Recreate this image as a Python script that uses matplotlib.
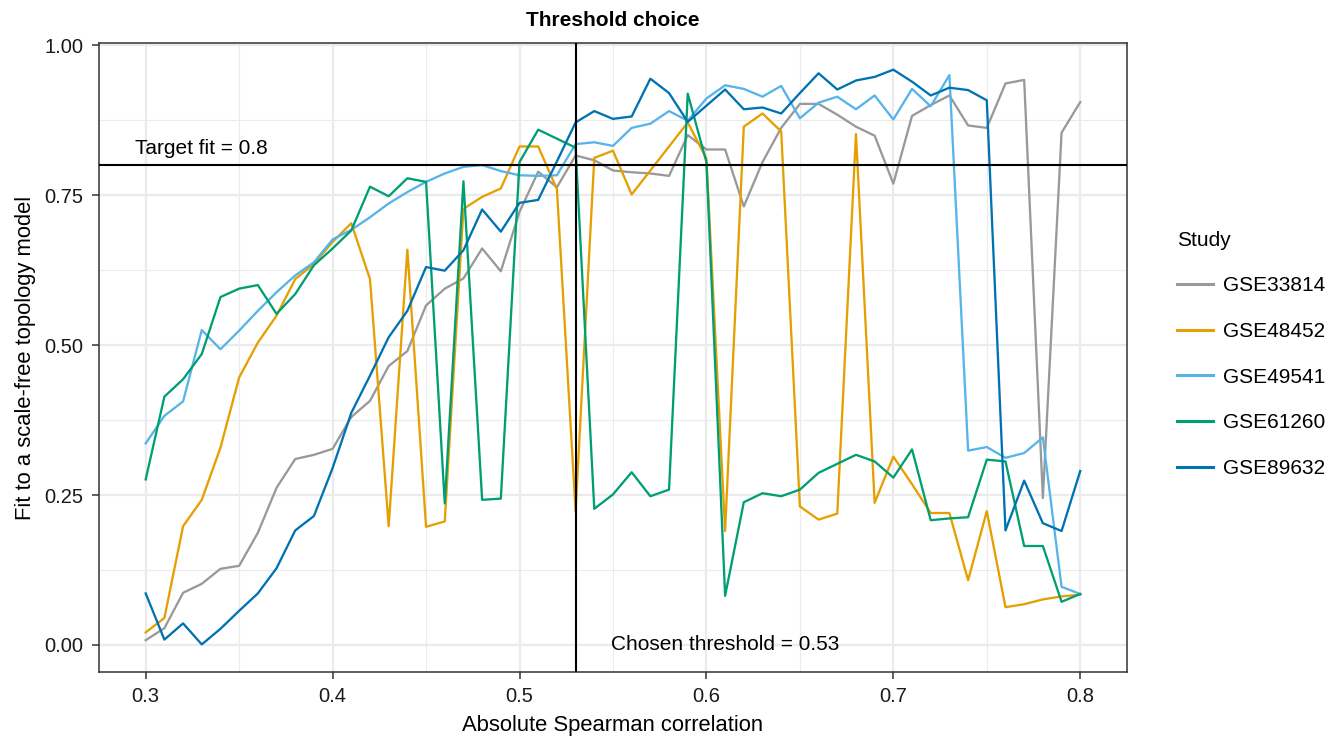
#!/usr/bin/env python3
"""
Threshold choice plot: scale-free topology fit vs absolute Spearman
correlation cutoff, one line per study (ggplot theme_bw look).
"""

import matplotlib

matplotlib.use("Agg")  # Use non-interactive backend
import matplotlib.pyplot as plt
from matplotlib.lines import Line2D
from matplotlib.ticker import FixedLocator, FormatStrFormatter

plt.rcParams["font.family"] = ["Liberation Sans", "DejaVu Sans"]

# Correlation cutoffs 0.30 .. 0.80
thresholds = [round(0.30 + 0.01 * i, 2) for i in range(51)]

gse33814 = [
    0.008, 0.028, 0.087, 0.102, 0.127, 0.132, 0.187, 0.262, 0.310, 0.317,
    0.327, 0.380, 0.407, 0.465, 0.490, 0.566, 0.594, 0.611, 0.661, 0.623,
    0.722, 0.789, 0.763, 0.816, 0.808, 0.791, 0.788, 0.786, 0.782, 0.850,
    0.826, 0.826, 0.731, 0.805, 0.862, 0.902, 0.902, 0.884, 0.864, 0.849,
    0.769, 0.882, 0.900, 0.916, 0.866, 0.862, 0.936, 0.942, 0.245, 0.854,
    0.905,
]
gse48452 = [
    0.021, 0.045, 0.198, 0.242, 0.329, 0.446, 0.504, 0.549, 0.610, 0.635,
    0.672, 0.703, 0.610, 0.198, 0.659, 0.197, 0.206, 0.727, 0.747, 0.761,
    0.831, 0.831, 0.760, 0.223, 0.812, 0.824, 0.751, 0.791, 0.831, 0.871,
    0.811, 0.190, 0.864, 0.886, 0.856, 0.231, 0.209, 0.219, 0.852, 0.237,
    0.314, 0.268, 0.220, 0.220, 0.108, 0.223, 0.063, 0.068, 0.076, 0.081,
    0.084,
]
gse49541 = [
    0.336, 0.382, 0.406, 0.525, 0.493, 0.524, 0.557, 0.588, 0.616, 0.638,
    0.676, 0.692, 0.713, 0.736, 0.755, 0.772, 0.786, 0.797, 0.800, 0.790,
    0.783, 0.782, 0.783, 0.835, 0.838, 0.832, 0.862, 0.869, 0.890, 0.874,
    0.911, 0.933, 0.927, 0.914, 0.932, 0.878, 0.904, 0.914, 0.893, 0.916,
    0.876, 0.927, 0.898, 0.950, 0.324, 0.330, 0.312, 0.320, 0.346, 0.097,
    0.085,
]
gse61260 = [
    0.276, 0.414, 0.443, 0.485, 0.580, 0.594, 0.600, 0.552, 0.585, 0.633,
    0.661, 0.691, 0.764, 0.748, 0.778, 0.772, 0.236, 0.773, 0.242, 0.244,
    0.805, 0.859, 0.844, 0.829, 0.227, 0.251, 0.288, 0.248, 0.259, 0.919,
    0.805, 0.082, 0.238, 0.253, 0.248, 0.259, 0.287, 0.302, 0.317, 0.306,
    0.279, 0.326, 0.208, 0.211, 0.213, 0.309, 0.306, 0.165, 0.165, 0.072,
    0.085,
]
gse89632 = [
    0.086, 0.009, 0.036, 0.001, 0.027, 0.057, 0.086, 0.128, 0.191, 0.215,
    0.295, 0.387, 0.449, 0.513, 0.557, 0.630, 0.624, 0.658, 0.726, 0.689,
    0.737, 0.742, 0.806, 0.871, 0.890, 0.877, 0.881, 0.944, 0.920, 0.872,
    0.899, 0.926, 0.893, 0.896, 0.886, 0.920, 0.953, 0.926, 0.941, 0.947,
    0.959, 0.939, 0.916, 0.929, 0.925, 0.908, 0.191, 0.274, 0.203, 0.190,
    0.290,
]

studies = ["GSE33814", "GSE48452", "GSE49541", "GSE61260", "GSE89632"]
series = [gse33814, gse48452, gse49541, gse61260, gse89632]

target_fit = 0.8
chosen_threshold = 0.53

x_ticks = [0.3, 0.4, 0.5, 0.6, 0.7, 0.8]
y_ticks = [0.00, 0.25, 0.50, 0.75, 1.00]

# colorblind-friendly palette (same order as studies)
STUDY_COLORS = ["#999999", "#E69F00", "#56B4E9", "#009E73", "#0072B2"]

BORDER = "#333333"
GRID = "#EBEBEB"


def main():
    fig = plt.figure(figsize=(13.41, 7.40), dpi=100)
    ax = fig.add_axes([0.0738, 0.0919, 0.7666, 0.8500])

    # grid: major + minor like theme_bw
    ax.set_xlim(0.275, 0.825)
    ax.set_ylim(-0.045, 1.0035)
    ax.xaxis.set_major_locator(FixedLocator(x_ticks))
    ax.yaxis.set_major_locator(FixedLocator(y_ticks))
    ax.xaxis.set_minor_locator(FixedLocator([0.35, 0.45, 0.55, 0.65, 0.75]))
    ax.yaxis.set_minor_locator(FixedLocator([0.125, 0.375, 0.625, 0.875]))
    ax.grid(which="major", color=GRID, linewidth=1.6)
    ax.grid(which="minor", color=GRID, linewidth=0.8)
    ax.set_axisbelow(True)

    for name, vals, color in zip(studies, series, STUDY_COLORS):
        ax.plot(thresholds, vals, color=color, linewidth=1.65, label=name,
                solid_joinstyle="round", zorder=2)

    # reference lines
    ax.axhline(target_fit, color="black", linewidth=1.5, zorder=3)
    ax.axvline(chosen_threshold, color="black", linewidth=1.5, zorder=3)
    ax.text(0.33, 0.828, f"Target fit = {target_fit}", ha="center",
            va="center", fontsize=15, color="black")
    ax.text(0.61, 0.0, f"Chosen threshold = {chosen_threshold}", ha="center",
            va="center", fontsize=15, color="black")

    # axes styling
    for spine in ax.spines.values():
        spine.set_color(BORDER)
        spine.set_linewidth(1.1)
    ax.xaxis.set_major_formatter(FormatStrFormatter("%.1f"))
    ax.yaxis.set_major_formatter(FormatStrFormatter("%.2f"))
    ax.tick_params(which="major", length=5, width=1.1, color=BORDER,
                   labelsize=14.5, labelcolor="#1A1A1A", pad=6)
    ax.tick_params(which="minor", length=0)

    ax.set_xlabel("Absolute Spearman correlation", fontsize=15.8,
                  labelpad=6.5)
    ax.set_ylabel("Fit to a scale-free topology model", fontsize=15.8,
                  labelpad=6)
    ax.set_title("Threshold choice", fontsize=15, fontweight="bold", pad=12.5)

    # legend
    handles = [Line2D([0], [0], color=c, linewidth=2.2) for c in STUDY_COLORS]
    ax.legend(
        handles,
        studies,
        title="Study",
        loc="center left",
        bbox_to_anchor=(1.0406, 0.505),
        borderaxespad=0,
        frameon=False,
        fontsize=15,
        title_fontsize=15,
        handlelength=1.73,
        handletextpad=0.48,
        labelspacing=1.28,
        alignment="left",
    )

    fig.savefig("out.png", dpi=100)
    plt.close(fig)


if __name__ == "__main__":
    main()
